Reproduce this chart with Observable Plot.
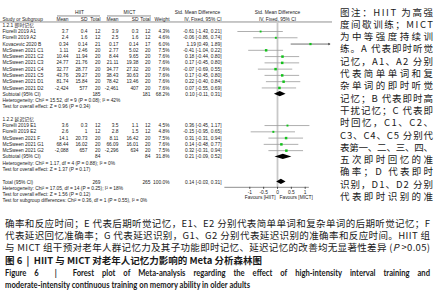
<!DOCTYPE html>
<html><head><meta charset="utf-8">
<script src="https://cdn.jsdelivr.net/npm/d3@7"></script>
<script src="https://cdn.jsdelivr.net/npm/@observablehq/plot@0.6"></script>
<style>
html,body{margin:0;padding:0;background:#fff;}
#page{position:relative;width:436px;height:300px;overflow:hidden;background:#fff;}
#plot{position:absolute;left:0;top:0;}
.ln{position:absolute;white-space:nowrap;color:#1a1a1a;}
.ln span{display:inline-block;transform-origin:0 50%;}
</style></head><body><div id="page"><div id="plot"></div></div>
<script>
// ---------------- data ----------------
const groupTitles = ["1.2.1 即时记忆", "1.2.2 延迟记忆"];
const studies = ["Fiorelli 2019 A1","Fiorelli 2019 A2","Kovacevic 2020 B","McSween 2021 C1","McSween 2021 C2","McSween 2021 C3","McSween 2021 C4","McSween 2021 C5","McSween 2021 D1","McSween 2021 D2","Fiorelli 2019 E1","Fiorelli 2019 E2","McSween 2021 F","McSween 2021 G1","McSween 2021 G2"];
const studyGroup = [0,0,0,0,0,0,0,0,0,0,1,1,1,1,1];
const hiitMean = [3.7,2.4,0.34,1.11,10.44,24.77,32.77,43.76,81.74,-2424,3.6,2.6,14.1,68.44,-2088];
const hiitSD   = [0.4,1.6,0.14,2.46,11.94,21.76,28.77,29.27,15.84,577,0.3,1,20.73,16.02,657];
const hiitN    = [12,12,21,20,20,20,20,20,20,20,12,12,20,20,20];
const mictMean = [3.9,2.5,0.17,2.77,8.44,21.11,34.77,38.43,78.42,-2461,3.5,2.8,8.11,66.09,-2296];
const mictSD   = [0.3,1.6,0.14,5.02,9.65,19.38,27.32,30.63,13.46,407,1.1,1.5,16.42,16.01,634];
const mictN    = [12,12,17,20,20,20,20,20,20,20,12,12,20,20,20];
const weight   = [4.3,4.6,6.0,7.5,7.6,7.6,7.6,7.6,7.6,7.6,4.5,4.8,7.5,7.6,7.5];
const smd      = [-0.61,-0.06,1.19,-0.41,0.18,0.17,-0.07,0.17,0.22,0.07,0.36,-0.15,0.31,0.14,0.32];
const ciLow    = [-1.43,-0.86,0.49,-1.04,-0.44,-0.45,-0.69,-0.45,-0.40,-0.55,-0.45,-0.95,-0.31,-0.48,-0.31];
const ciHigh   = [0.21,0.74,1.89,0.22,0.80,0.80,0.55,0.80,0.84,0.69,1.17,0.65,0.94,0.77,0.94];

const subHiitN  = [185, 84];
const subMictN  = [181, 84];
const subWeight = [68.2, 31.8];
const subSmd    = [0.10, 0.21];
const subLow    = [-0.11, -0.09];
const subHigh   = [0.31, 0.52];
const hetText   = ["Heterogeneity: Chi² = 15.52, df = 9 (P = 0.08); I² = 42%",
                   "Heterogeneity: Chi² = 1.17, df = 4 (P = 0.88); I² = 0%"];
const testText  = ["Test for overall effect: Z = 0.96 (P = 0.34)",
                   "Test for overall effect: Z = 1.37 (P = 0.17)"];

const totalHiitN = 269, totalMictN = 265, totalWeight = 100.0;
const totalSmd = 0.14, totalLow = -0.03, totalHigh = 0.31;
const totalHet  = "Heterogeneity: Chi² = 17.05, df = 14 (P = 0.25); I² = 18%";
const totalTest = "Test for overall effect: Z = 1.56 (P = 0.12)";
const subgroupDiffText = "Test for subgroup differences: Chi² = 0.36, df = 1 (P = 0.55), I² = 0%";

const xTicks = [-1, -0.5, 0, 0.5, 1];
const axisExtent = [-1.9, 1.15];
const favours = ["Favours [HIIT]", "Favours [MICT]"];

// ---------------- layout ----------------
const W = 332, H = 215;
const rowY0 = 12.2, rowH = 6.27, nRowMax = 30;
const x0px = 277, pxPerUnit = 27.7;
const xDomain = [-2, 2];
const xRange = [x0px - 2 * pxPerUnit, x0px + 2 * pxPerUnit];
const xs = d3.scaleLinear().domain(xDomain).range(xRange);
const FS = 4.85;
const FONT = "'Liberation Sans', Arial, 'Noto Sans CJK SC', sans-serif";
const TXT = "#222";

const fmtNum = v => Math.abs(v) >= 1000 ? d3.format(",")(v).replace("\u2212", "-") : String(v);
const f2 = v => v.toFixed(2);
const ciStr = (e, l, h) => `${f2(e)} [${f2(l)}, ${f2(h)}]`;

const rows = [];
const studyRows = [];
const diamonds = [];
rows.push({r: 1, study: "Study or Subgroup", hm: "Mean", hs: "SD", hn: "Total", mm: "Mean", ms: "SD", mn: "Total", w: "Weight", ci: "IV, Fixed, 95% CI"});
let r = 2;
groupTitles.forEach((title, g) => {
  rows.push({r, study: title}); r++;
  studies.forEach((s, i) => {
    if (studyGroup[i] !== g) return;
    rows.push({r, study: s, hm: fmtNum(hiitMean[i]), hs: fmtNum(hiitSD[i]), hn: String(hiitN[i]),
      mm: fmtNum(mictMean[i]), ms: fmtNum(mictSD[i]), mn: String(mictN[i]),
      w: weight[i].toFixed(1) + "%", ci: ciStr(smd[i], ciLow[i], ciHigh[i])});
    studyRows.push({r, est: smd[i], lo: ciLow[i], hi: ciHigh[i], w: weight[i]});
    r++;
  });
  rows.push({r, study: "Subtotal (95% CI)", hn: String(subHiitN[g]), mn: String(subMictN[g]),
    w: subWeight[g].toFixed(1) + "%", ci: ciStr(subSmd[g], subLow[g], subHigh[g])});
  diamonds.push({id: "g" + g, r, est: subSmd[g], lo: subLow[g], hi: subHigh[g]}); r++;
  rows.push({r, study: hetText[g]}); r++;
  rows.push({r, study: testText[g]}); r++;
  r++;
});
const totalRow = r;
rows.push({r, study: "Total (95% CI)", hn: String(totalHiitN), mn: String(totalMictN),
  w: totalWeight.toFixed(1) + "%", ci: ciStr(totalSmd, totalLow, totalHigh)});
diamonds.push({id: "tot", r, est: totalSmd, lo: totalLow, hi: totalHigh}); r++;
rows.push({r, study: totalHet}); r++;
rows.push({r, study: totalTest}); r++;
rows.push({r, study: subgroupDiffText}); r++;

const axisRow = totalRow + 0.85;
const yOf = v => rowY0 + v * rowH;
const axisY = yOf(axisRow);

const diamondPts = diamonds.flatMap(d => [
  {id: d.id, r: d.r - 0.42, x1: d.est, x2: d.est},
  {id: d.id, r: d.r, x1: d.lo, x2: d.hi},
  {id: d.id, r: d.r + 0.42, x1: d.est, x2: d.est}
]);

const cols = [
  {key: "study", dx: 2, anchor: "start"},
  {key: "hm", dx: 68, anchor: "end"},
  {key: "hs", dx: 87, anchor: "end"},
  {key: "hn", dx: 100, anchor: "end"},
  {key: "mm", dx: 118, anchor: "end"},
  {key: "ms", dx: 138, anchor: "end"},
  {key: "mn", dx: 150, anchor: "end"},
  {key: "w", dx: 169, anchor: "end"},
  {key: "ci", dx: 221, anchor: "end"}
];
const textMarks = cols.map(c => Plot.text(rows.filter(d => d[c.key] != null), {
  y: "r", text: c.key, frameAnchor: "left", dx: c.dx, textAnchor: c.anchor,
  fontSize: FS, fill: TXT
}));
const groupHeads = [
  {label: "HIIT", cx: 79, x1: 57, x2: 100},
  {label: "MICT", cx: 129, x1: 107, x2: 151}
];
const arrowRows = studyRows.filter(d => d.hi > axisExtent[1] + 0.3);
const plainRows = studyRows.filter(d => !(d.hi > axisExtent[1] + 0.3));

const chart = Plot.plot({
  width: W, height: H,
  marginTop: 0, marginLeft: 0, marginRight: 0, marginBottom: H - axisY,
  style: {fontFamily: FONT, background: "transparent"},
  x: {domain: xDomain, range: xRange, axis: null},
  y: {domain: [0, nRowMax], range: [rowY0, yOf(nRowMax)], axis: null},
  r: {type: "sqrt", domain: [0, 8], range: [0, 1.45]},
  marks: [
    Plot.ruleY([1.48], {stroke: "#444", strokeWidth: 0.6}),
    Plot.ruleY(groupHeads, {y: () => 0.52, x1: d => xs.invert(d.x1), x2: d => xs.invert(d.x2), stroke: "#444", strokeWidth: 0.6}),
    Plot.text(groupHeads, {y: () => 0, text: "label", fontSize: FS, fill: TXT, x: d => xs.invert(d.cx)}),
    Plot.text(["Std. Mean Difference"], {y: () => 0, x: () => xs.invert(197), fontSize: FS, fill: TXT}),
    Plot.text(["Std. Mean Difference"], {y: () => 0, x: () => 0, fontSize: FS, fill: TXT}),
    Plot.text(["IV, Fixed, 95% CI"], {y: () => 1, x: () => 0, fontSize: FS, fill: TXT}),
    Plot.ruleX([0], {y1: 1.48, y2: axisRow, stroke: "#c8c8c8", strokeWidth: 1.8}),
    Plot.ruleY(plainRows, {y: "r", x1: "lo", x2: "hi", stroke: "#9a9a9a", strokeWidth: 0.8}),
    Plot.arrow(arrowRows, {x1: "lo", x2: "hi", y1: "r", y2: "r", stroke: "#333", strokeWidth: 0.7, headLength: 3.5, headAngle: 50}),
    Plot.dot(studyRows, {x: "est", y: "r", r: "w", symbol: "square", fill: "#12c21a", stroke: null}),
    Plot.areaX(diamondPts, {y: "r", x1: "x1", x2: "x2", z: "id", fill: "#000", curve: "linear"}),
    Plot.ruleY([axisRow], {x1: axisExtent[0], x2: axisExtent[1], stroke: "#444", strokeWidth: 0.6}),
    Plot.axisX({ticks: xTicks, tickFormat: d => String(d), tickSize: 2, tickPadding: 0.8, fontSize: FS, label: null, stroke: "#444", fill: TXT}),
    Plot.text([favours[0]], {x: () => 0, frameAnchor: "bottom", dy: 12, dx: -2, textAnchor: "end", fontSize: FS, fill: TXT}),
    Plot.text([favours[1]], {x: () => 0, frameAnchor: "bottom", dy: 12, dx: 2, textAnchor: "start", fontSize: FS, fill: TXT}),
    ...textMarks
  ]
});
document.getElementById("plot").appendChild(chart);

// ---------------- caption text ----------------
const page = document.getElementById("page");
function addLine(html, o) {
  const d = document.createElement("div");
  d.className = "ln";
  const lh = o.size * 1.15;
  d.style.left = o.x + "px";
  d.style.top = (o.yc - lh / 2) + "px";
  d.style.fontSize = o.size + "px";
  d.style.lineHeight = lh + "px";
  d.style.fontFamily = o.family;
  d.style.fontWeight = o.weight || 400;
  const s = document.createElement("span");
  s.innerHTML = html;
  d.appendChild(s);
  page.appendChild(d);
  return s;
}
function justifyChars(s, target) {
  const w = s.getBoundingClientRect().width;
  const n = [...s.textContent].length;
  s.style.letterSpacing = ((target - w) / (n - 1)) + "px";
}
const CN = "'Noto Sans CJK SC', sans-serif";
const side = [
  "图注：HIIT 为高强", "度间歇训练；MICT", "为中等强度持续训", "练。A 代表即时听觉",
  "记忆，A1、A2 分别", "代表简单单词和复", "杂单词的即时听觉", "记忆；B 代表即时高",
  "干扰记忆；C 代表即", "时回忆，C1、C2、", "C3、C4、C5 分别代", "表第一、二、三、四、",
  "五次即时回忆的准", "确率；D 代表即时", "识别，D1、D2 分别", "代表即时识别的准"
];
side.forEach((t, i) => {
  const s = addLine(t, {x: 340, yc: 12 + i * 12.3, size: 9.5, family: CN});
  justifyChars(s, 93);
});
const bottom = [
  "确率和反应时间；E 代表后期听觉记忆，E1、E2 分别代表简单单词和复杂单词的后期听觉记忆；F",
  "代表延迟回忆准确率；G 代表延迟识别，G1、G2 分别代表延迟识别的准确率和反应时间。HIIT 组",
  "与 MICT 组干预对老年人群记忆力及其子功能即时记忆、延迟记忆的改善均无显著性差异 (<i>P</i> &gt;0.05)"
];
bottom.forEach((t, i) => {
  const s = addLine(t, {x: 5, yc: 223 + i * 12.3, size: 9.5, family: CN});
  justifyChars(s, 425);
});
addLine("图 6 &nbsp;|&nbsp; HIIT 与 MICT 对老年人记忆力影响的 Meta 分析森林图", {x: 5, yc: 260, size: 9.5, family: CN, weight: 700});
const EN = "Lato, 'Open Sans', sans-serif";
const e1 = addLine("Figure 6 &nbsp;|&nbsp; Forest plot of Meta-analysis regarding the effect of high-intensity interval training and", {x: 5, yc: 273, size: 9.5, family: EN, weight: 700});
const e2 = addLine("moderate-intensity continuous training on memory ability in older adults", {x: 5, yc: 285.5, size: 9.5, family: EN, weight: 700});
const w2 = e2.getBoundingClientRect().width;
const sc = Math.min(1, 245 / w2);
e2.style.transform = `scaleX(${sc})`;
e1.style.transform = `scaleX(${sc})`;
const w1 = e1.getBoundingClientRect().width / sc;
const nsp = (e1.textContent.match(/[ \u00a0]/g) || []).length;
e1.style.wordSpacing = ((425 / sc - w1) / nsp) + "px";
</script>
</body></html>
